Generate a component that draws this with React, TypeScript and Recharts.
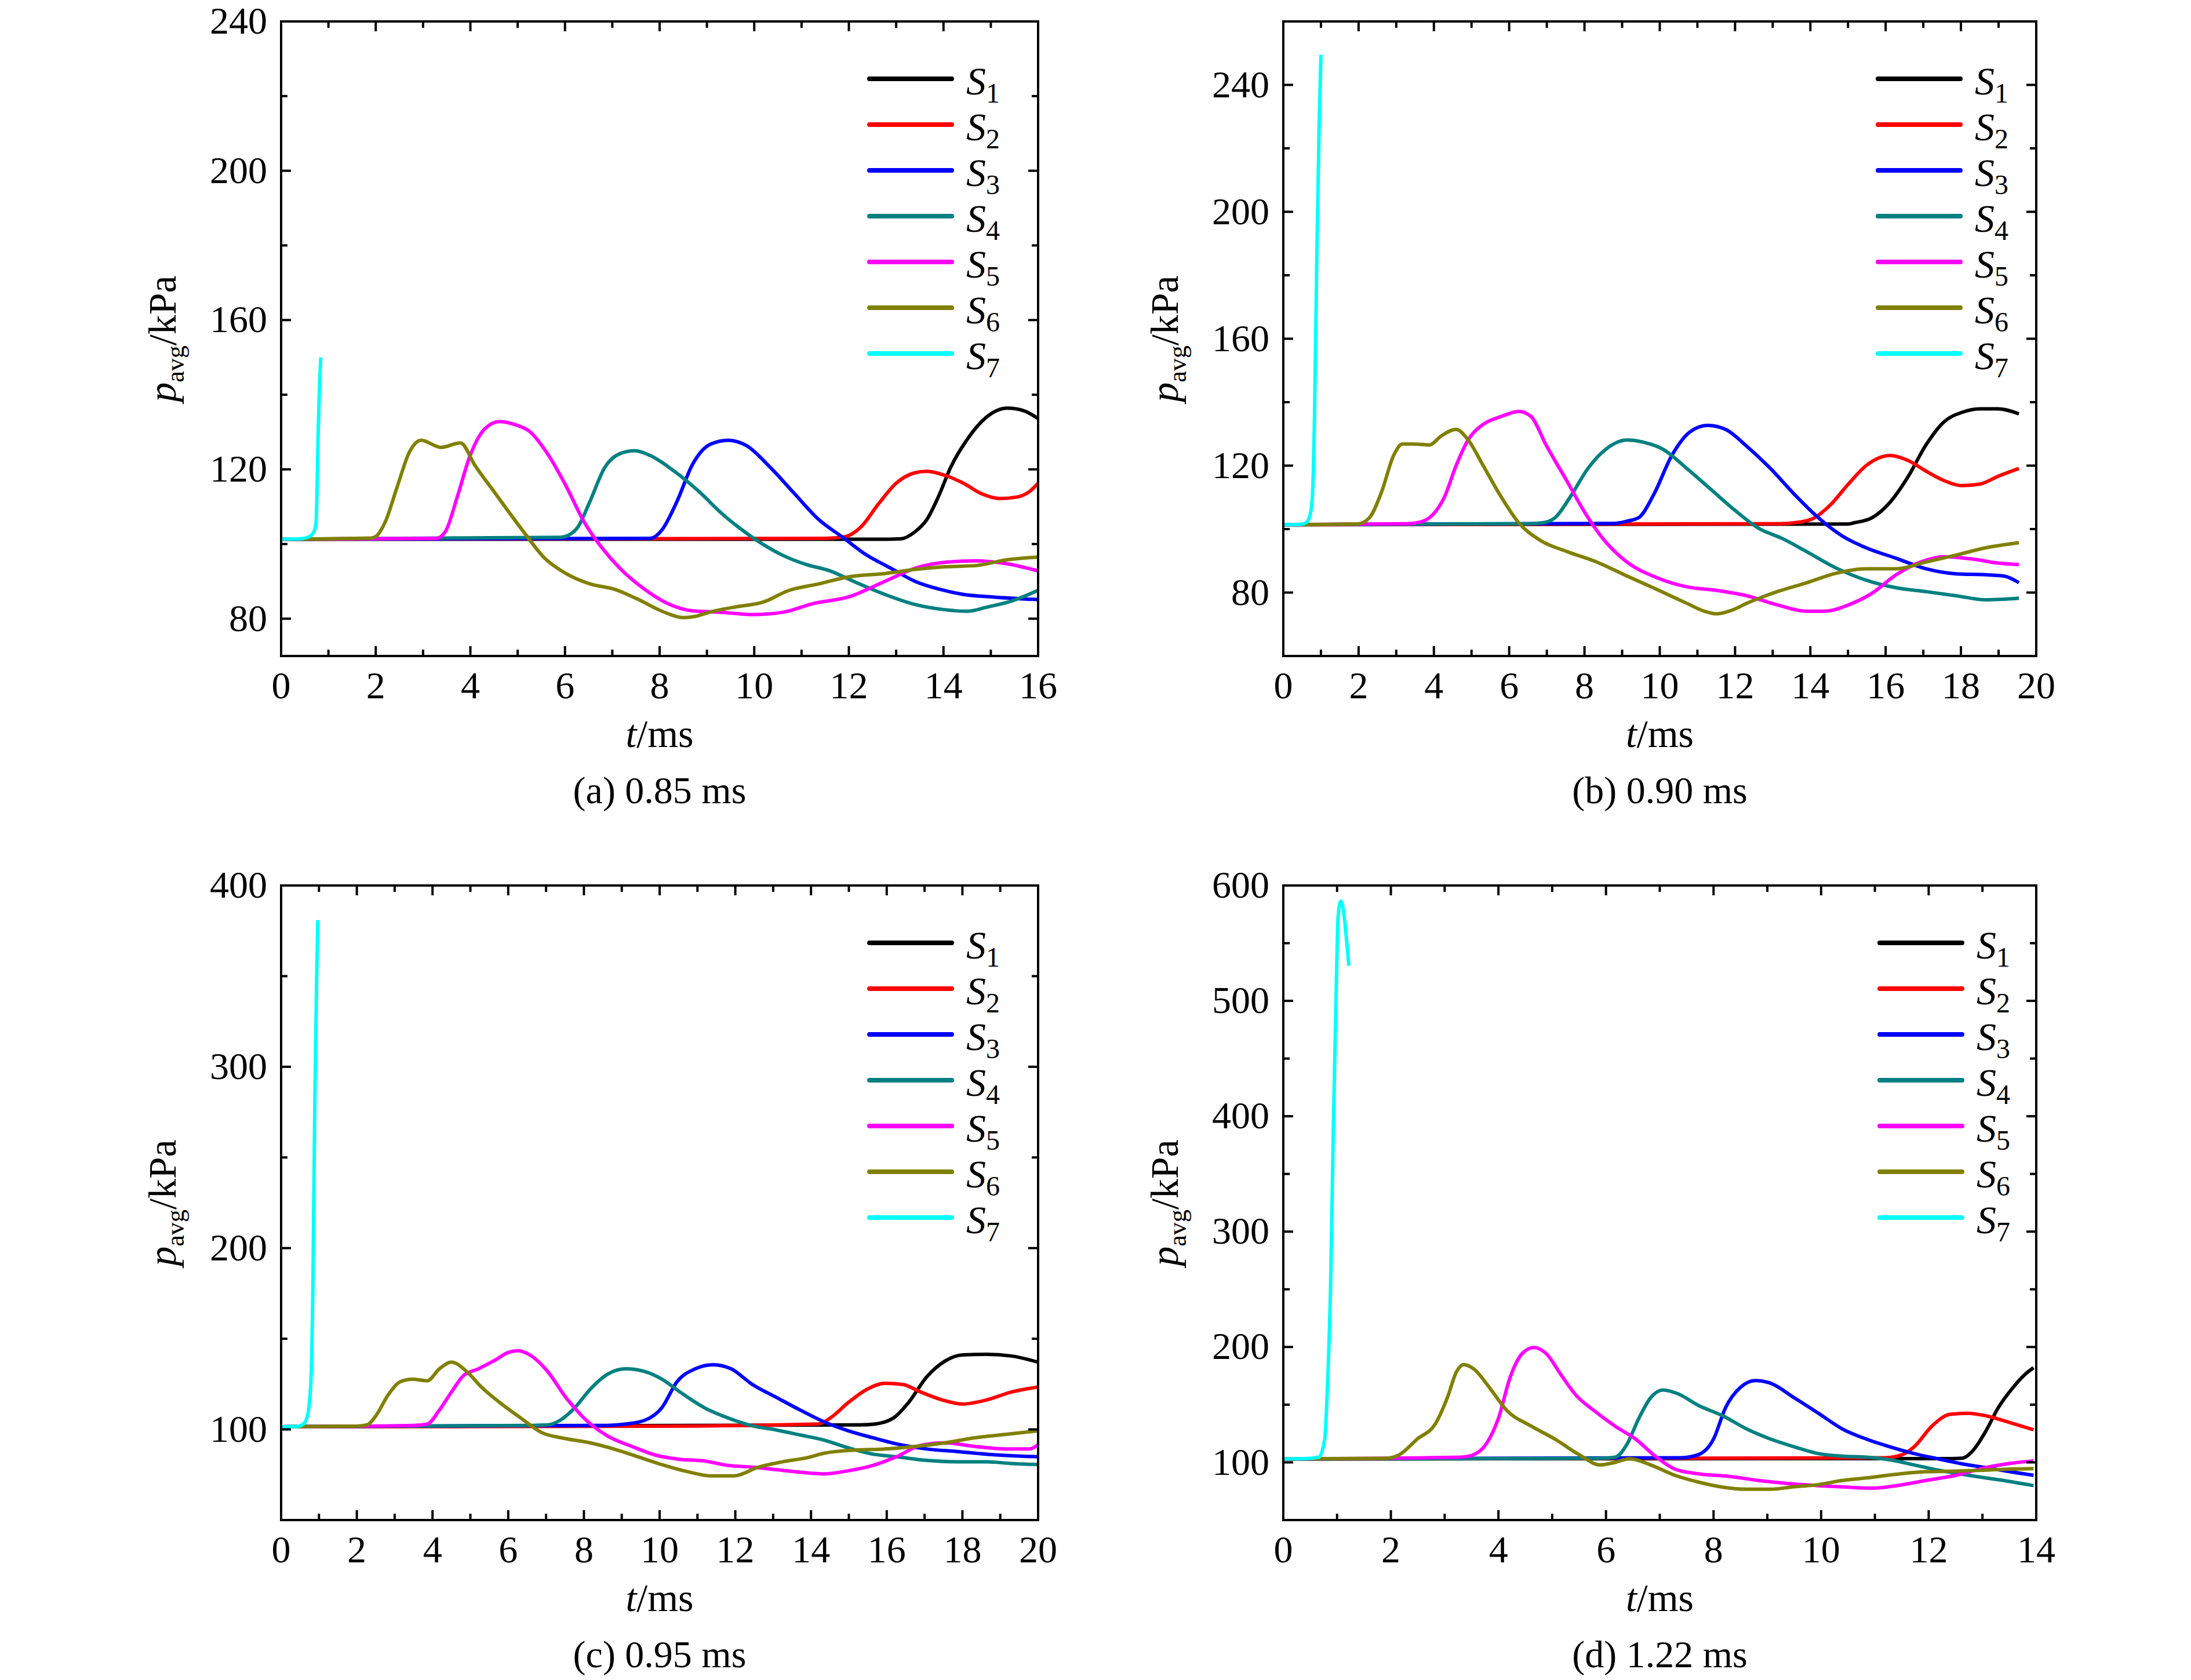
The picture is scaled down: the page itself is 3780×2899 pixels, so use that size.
import React from "react";
import { LineChart, Line, XAxis, YAxis, Legend, Label } from "recharts";

document.body.style.margin = "0";

const FONT = "Liberation Serif, Times New Roman, serif";
const NAMES = ["S1", "S2", "S3", "S4", "S5", "S6", "S7"];
const COLORS = ["#000000", "#ff0000", "#0000ff", "#008080", "#ff00ff", "#808000", "#00ffff"];

type Pt = [number, number];

// (a) 0.85 ms
const A_S1: Pt[] = [[0, 101.3], [12.8, 101.3], [13.1, 101.4], [13.4, 103.3], [13.65, 106.6], [13.9, 112.9], [14.15, 120.5], [14.5, 128], [14.9, 133.9], [15.35, 136.4], [15.7, 135.7], [16, 133.6]];
const A_S2: Pt[] = [[0, 101.3], [11.5, 101.5], [11.93, 102], [12.25, 104.5], [12.63, 110.8], [13.0, 116.3], [13.4, 119.1], [13.65, 119.5], [14.03, 118.4], [14.42, 116.3], [14.8, 113.5], [15.18, 112.2], [15.56, 112.6], [15.81, 114], [16, 116.3]];
const A_S3: Pt[] = [[0, 101.3], [7.8, 101.5], [8.05, 103.8], [8.37, 111.5], [8.69, 121.2], [9.07, 126.7], [9.45, 127.8], [9.83, 126.4], [10.34, 120.5], [10.85, 113.5], [11.36, 106.6], [11.87, 101.8], [12.38, 97], [12.89, 93.5], [13.4, 90], [13.91, 87.9], [14.42, 86.5], [15.05, 85.8], [16, 85.1]];
const A_S4: Pt[] = [[0, 101.3], [5.9, 101.8], [6.08, 102.4], [6.27, 104.5], [6.53, 111.5], [6.84, 120.5], [7.16, 124.2], [7.48, 125], [7.8, 123.7], [8.31, 119.5], [8.82, 114.2], [9.33, 108], [9.96, 101.8], [10.6, 97], [11.1, 94.5], [11.6, 92.8], [12.1, 90], [12.76, 86.5], [13.4, 83.8], [14.03, 82.4], [14.5, 82], [14.92, 83.1], [15.43, 84.7], [16, 87.6]];
const A_S5: Pt[] = [[0, 101.3], [3.28, 101.5], [3.47, 103.3], [3.73, 112.9], [3.98, 123.2], [4.3, 130.8], [4.62, 132.8], [4.94, 132], [5.25, 130.2], [5.64, 124], [6.02, 115.6], [6.4, 106], [6.78, 99], [7.16, 93.5], [7.67, 88], [8.18, 84], [8.69, 82.1], [9.33, 81.7], [9.96, 81.1], [10.6, 81.7], [11.23, 84], [11.99, 85.8], [12.76, 90], [13.4, 93.5], [14.03, 95.1], [14.67, 95.5], [15.3, 94.8], [16, 92.8]];
const A_S6: Pt[] = [[0, 101.3], [1.9, 101.6], [2.0, 102], [2.2, 105.9], [2.46, 115.6], [2.71, 124.6], [2.96, 127.8], [3.38, 125.9], [3.79, 127.1], [4.1, 121], [4.49, 114.2], [5.13, 103.2], [5.57, 96.2], [6.02, 92.1], [6.53, 89.3], [7.04, 87.9], [7.54, 85.2], [8.05, 82], [8.5, 80.3], [8.75, 80.6], [9.07, 81.8], [9.58, 83.1], [10.2, 84.5], [10.72, 87.5], [11.36, 89.3], [11.99, 91.2], [12.76, 92.1], [13.4, 93.2], [14.03, 93.9], [14.67, 94.2], [15.3, 95.7], [16, 96.5]];
const A_S7: Pt[] = [[0, 101.3], [0.4, 101.4], [0.6, 102], [0.7, 103.5], [0.74, 106], [0.76, 115], [0.78, 128], [0.81, 142], [0.84, 150]];

// (b) 0.90 ms
const B_S1: Pt[] = [[0, 101.4], [15.0, 101.6], [15.17, 102], [15.64, 103.6], [16.12, 108.5], [16.6, 116.6], [17.07, 126.5], [17.55, 133.8], [18.03, 136.8], [18.51, 137.9], [18.98, 137.9], [19.54, 136.3]];
const B_S2: Pt[] = [[0, 101.4], [13.2, 101.7], [13.58, 102], [14.05, 103.2], [14.53, 107.6], [15.01, 114.2], [15.48, 120], [16.12, 123.2], [16.6, 121.6], [17.07, 118.3], [17.55, 115.3], [18.03, 113.7], [18.51, 114.2], [18.98, 116.6], [19.54, 119.1]];
const B_S3: Pt[] = [[0, 101.4], [8.8, 101.8], [9.13, 102.5], [9.44, 103.6], [9.84, 110.9], [10.32, 123.2], [10.8, 130.6], [11.27, 132.7], [11.75, 131.4], [12.31, 126.1], [12.94, 119.1], [13.58, 110.9], [14.21, 103.6], [14.85, 97.8], [15.48, 94.1], [16.28, 90.8], [17.07, 87.5], [17.87, 85.9], [18.66, 85.6], [19.14, 85.2], [19.54, 83.1]];
const B_S4: Pt[] = [[0, 101.4], [6.5, 101.7], [6.9, 102], [7.22, 103.6], [7.62, 110.1], [8.09, 119.1], [8.57, 125.2], [9.13, 128.1], [9.6, 127.3], [10.08, 125.2], [10.72, 119.1], [11.35, 112.6], [11.99, 106], [12.62, 100.3], [13.26, 97], [13.9, 92.9], [14.69, 87.7], [15.48, 83.9], [16.28, 81.5], [17.07, 80.3], [17.87, 79], [18.66, 77.7], [19.54, 78.2]];
const B_S5: Pt[] = [[0, 101.4], [3.3, 101.7], [3.64, 102.2], [3.96, 104.4], [4.28, 110.1], [4.59, 120], [4.91, 128.1], [5.31, 133], [5.79, 135.5], [6.26, 137.1], [6.58, 135.5], [6.98, 126.5], [7.54, 115], [8.01, 105.2], [8.49, 97], [9.13, 89.6], [9.92, 84.7], [10.72, 81.8], [11.51, 80.7], [12.31, 79], [13.1, 76.2], [13.9, 74.1], [14.37, 74.1], [15.01, 76.1], [15.64, 79.8], [16.28, 85.6], [16.92, 89.6], [17.55, 91.3], [18.35, 90.5], [18.98, 89.3], [19.54, 88.8]];
const B_S6: Pt[] = [[0, 101.4], [1.97, 101.6], [2.29, 103.6], [2.61, 111.7], [2.93, 123.2], [3.16, 126.8], [3.48, 126.8], [3.88, 126.5], [4.2, 129.4], [4.59, 131.4], [4.91, 128.1], [5.31, 120], [5.79, 110.1], [6.26, 101.9], [6.82, 96.5], [7.54, 92.9], [8.33, 89.6], [9.13, 85.2], [9.92, 81], [10.72, 76.6], [11.19, 74.1], [11.51, 73.3], [11.91, 74.4], [12.31, 76.6], [13.1, 80.2], [13.9, 83.1], [14.69, 86.1], [15.48, 87.5], [16.28, 87.5], [17.07, 89.6], [17.87, 91.8], [18.66, 94.1], [19.54, 95.7]];
const B_S7: Pt[] = [[0, 101.4], [0.45, 101.5], [0.6, 102], [0.67, 103], [0.75, 107], [0.78, 112], [0.83, 136.3], [0.89, 185.4], [0.95, 226.3], [1.0, 249.5]];

// (c) 0.95 ms
const C_S1: Pt[] = [[0, 101.5], [15.3, 102.5], [15.7, 103], [16.18, 106.3], [16.58, 114.9], [17.06, 129], [17.54, 137.7], [18.01, 141.1], [18.65, 141.4], [19.29, 140.5], [20, 137.1]];
const C_S2: Pt[] = [[0, 101.5], [10, 101.8], [14.2, 103], [14.51, 106.3], [14.99, 114.9], [15.47, 122], [15.95, 125.4], [16.42, 124.8], [16.9, 120.6], [17.46, 116.3], [18.01, 114], [18.65, 116.3], [19.29, 120.6], [20, 123.4]];
const C_S3: Pt[] = [[0, 101.5], [8.6, 102.2], [9.11, 103], [9.59, 104.9], [10.06, 112], [10.46, 126.3], [10.94, 133.4], [11.41, 135.7], [11.89, 133.4], [12.45, 124.8], [13.08, 117.7], [13.72, 110.6], [14.36, 104], [14.99, 99.2], [15.63, 95.4], [16.26, 92], [17.06, 89.2], [17.85, 87.8], [18.65, 86.3], [20, 84.9]];
const C_S4: Pt[] = [[0, 101.5], [6.6, 102.2], [7.04, 102.5], [7.36, 104.9], [7.76, 112], [8.16, 122], [8.63, 130.5], [9.11, 133.4], [9.59, 132], [10.06, 127.7], [10.54, 120.6], [11.18, 112], [11.81, 106.3], [12.45, 102], [13.08, 99.7], [13.72, 96.9], [14.36, 94], [14.99, 89.8], [15.63, 86.4], [16.26, 84.9], [17.06, 82.9], [17.85, 82.1], [18.65, 82.1], [19.29, 81.2], [20, 80.6]];
const C_S5: Pt[] = [[0, 101.5], [3.5, 102.2], [3.86, 102.9], [4.18, 110.6], [4.5, 120.6], [4.82, 129.7], [5.21, 133.4], [5.61, 137.7], [6.01, 142.5], [6.25, 143.4], [6.57, 141.1], [7.04, 132], [7.52, 117.7], [8.0, 106.3], [8.63, 96.3], [9.27, 90.6], [9.9, 85.8], [10.54, 83.5], [11.18, 82.6], [11.81, 80.1], [12.45, 79.2], [13.08, 77.8], [13.72, 76.4], [14.36, 75.5], [14.99, 77.2], [15.63, 80.1], [16.26, 84.9], [16.9, 91.2], [17.54, 92.6], [18.33, 90.6], [19.13, 89.2], [19.76, 89.2], [20, 91.5]];
const C_S6: Pt[] = [[0, 101.5], [2.0, 101.8], [2.27, 102.5], [2.51, 107.7], [2.83, 119.1], [3.15, 126.3], [3.47, 127.7], [3.86, 126.8], [4.18, 133.4], [4.5, 137.1], [4.9, 132], [5.29, 123.4], [5.77, 114.9], [6.33, 106.3], [6.88, 98.3], [7.52, 94.9], [8.16, 92.6], [8.79, 89.2], [9.43, 84.9], [10.06, 80.6], [10.7, 76.9], [11.34, 74.4], [11.97, 74.4], [12.61, 79.2], [13.24, 82.1], [13.88, 84.3], [14.36, 86.9], [15.15, 88.6], [15.95, 89.2], [16.74, 90.6], [17.54, 92.6], [18.33, 95.4], [19.13, 97.2], [20, 99.2]];
const C_S7: Pt[] = [[0, 101.5], [0.4, 101.6], [0.56, 102.5], [0.68, 106.3], [0.78, 123.4], [0.84, 180.4], [0.89, 280.2], [0.94, 351.5], [0.97, 380.9]];

// (d) 1.22 ms
const D_S1: Pt[] = [[0, 103], [12.4, 103.3], [12.62, 103.6], [12.84, 111.2], [13.06, 126.9], [13.29, 147.1], [13.57, 165], [13.79, 176.2], [13.95, 182.1]];
const D_S2: Pt[] = [[0, 103], [11.2, 104], [11.51, 106.7], [11.73, 113.5], [12.06, 131.4], [12.4, 141.7], [12.73, 142.6], [13.06, 140.4], [13.51, 134.5], [13.95, 128.3]];
const D_S3: Pt[] = [[0, 103], [7.4, 104], [7.72, 106.7], [8.0, 120.2], [8.22, 147.1], [8.5, 165], [8.78, 170.9], [9.06, 168.6], [9.5, 156], [9.95, 142.6], [10.39, 129.1], [10.84, 120.2], [11.28, 113.5], [11.73, 107.6], [12.17, 103.1], [12.62, 98.7], [13.06, 95.5], [13.51, 91.9], [13.95, 88.8]];
const D_S4: Pt[] = [[0, 103], [5.9, 103.5], [6.17, 104.5], [6.39, 115.7], [6.61, 138.1], [6.83, 156], [7.06, 162.8], [7.33, 159.6], [7.72, 149.3], [8.17, 140.4], [8.61, 129.1], [9.06, 120.2], [9.5, 113.5], [9.95, 107.6], [10.39, 105.4], [10.84, 104.5], [11.28, 102.2], [11.73, 97.8], [12.17, 93.3], [12.62, 89.7], [13.06, 86.5], [13.51, 83.4], [13.95, 79.8]];
const D_S5: Pt[] = [[0, 103], [3.3, 104.5], [3.49, 105.8], [3.77, 115.7], [4.0, 138.1], [4.22, 174], [4.44, 194.2], [4.66, 199.6], [4.89, 194.2], [5.16, 176.2], [5.44, 158.3], [5.78, 144.8], [6.17, 131.4], [6.55, 120.2], [6.94, 104.5], [7.28, 94.2], [7.72, 90.1], [8.28, 87.9], [8.84, 84.3], [9.39, 81.6], [9.95, 79.8], [10.5, 78.5], [10.95, 77.6], [11.4, 79.8], [11.95, 84.3], [12.51, 88.8], [13.06, 95.5], [13.51, 99.1], [13.95, 101.3]];
const D_S6: Pt[] = [[0, 103], [1.9, 103.5], [2.16, 106.7], [2.49, 120.2], [2.83, 133.6], [3.05, 156], [3.22, 178.5], [3.35, 184.8], [3.55, 180.7], [3.83, 165], [4.16, 144.8], [4.61, 131.4], [5.05, 120.2], [5.5, 106.7], [5.89, 97.8], [6.17, 100], [6.44, 103.1], [6.83, 97.8], [7.28, 88.8], [7.72, 82.9], [8.17, 78.5], [8.61, 76.7], [9.06, 76.7], [9.5, 78.9], [9.95, 80.7], [10.39, 84.3], [10.84, 86.5], [11.4, 89.7], [11.95, 91.9], [12.51, 92.4], [13.06, 93.3], [13.51, 94.2], [13.95, 94.6]];
const D_S7: Pt[] = [[0, 103], [0.4, 103.2], [0.66, 104.5], [0.77, 120.2], [0.82, 165], [0.88, 254.7], [0.93, 389.2], [0.98, 501.3], [1.02, 573.1], [1.07, 586.5], [1.12, 577.6], [1.18, 550.7], [1.22, 530.5]];

// ticks
const A_X_MAJOR = [0, 2, 4, 6, 8, 10, 12, 14, 16];
const A_X_MINOR = [1, 3, 5, 7, 9, 11, 13, 15];
const A_Y_MAJOR = [80, 120, 160, 200, 240];
const A_Y_MINOR = [100, 140, 180, 220];

const B_X_MAJOR = [0, 2, 4, 6, 8, 10, 12, 14, 16, 18, 20];
const B_X_MINOR = [1, 3, 5, 7, 9, 11, 13, 15, 17, 19];
const B_Y_MAJOR = [80, 120, 160, 200, 240];
const B_Y_MINOR = [100, 140, 180, 220];

const C_X_MAJOR = [0, 2, 4, 6, 8, 10, 12, 14, 16, 18, 20];
const C_X_MINOR = [1, 3, 5, 7, 9, 11, 13, 15, 17, 19];
const C_Y_MAJOR = [100, 200, 300, 400];
const C_Y_MINOR = [150, 250, 350];

const D_X_MAJOR = [0, 2, 4, 6, 8, 10, 12, 14];
const D_X_MINOR = [1, 3, 5, 7, 9, 11, 13];
const D_Y_MAJOR = [100, 200, 300, 400, 500, 600];
const D_Y_MINOR = [150, 250, 350, 450, 550];

const W = 1620;
const H = 1450;
const LEFT_GAP = 257; // chart edge to plot box
const TOP_GAP = 37;
const PLOT_H = 1095;
const MAJOR_LEN = 17;
const MINOR_LEN = 11;
const TICK_W = 4;
const AXIS_LINE = { stroke: "#000", strokeWidth: 4, strokeLinecap: "square" as const };

const toPts = (arr: Pt[]) => arr.map(([t, p]) => ({ t, p }));
const merge = (a: number[], b: number[]) => [...a, ...b].sort((m, n) => m - n);

type PanelProps = {
  plotLeft: number;
  plotRight: number;
  plotTop: number;
  caption: string;
  series: Pt[][];
  xDomain: [number, number];
  xMajor: number[];
  xMinor: number[];
  yDomain: [number, number];
  yMajor: number[];
  yMinor: number[];
  legendDx: number;
};

function LegendBody({ payload }: any) {
  return (
    <div style={{ fontFamily: FONT, color: "#000" }}>
      {(payload || []).map((e: any) => (
        <div key={e.value} style={{ display: "flex", alignItems: "center", height: 79 }}>
          <div style={{ width: 150, height: 8, background: e.color, borderRadius: 4 }} />
          <span style={{ marginLeft: 21, fontSize: 68, lineHeight: "68px", position: "relative", top: 8, whiteSpace: "nowrap", fontFamily: FONT }}>
            <span style={{ fontStyle: "italic" }}>S</span>
            <span style={{ fontSize: 48, position: "relative", top: 14 }}>{String(e.value).slice(1)}</span>
          </span>
        </div>
      ))}
    </div>
  );
}

function Panel(props: PanelProps) {
  const { plotLeft, plotRight, plotTop, caption, series, xDomain, xMajor, xMinor, yDomain, yMajor, yMinor, legendDx } = props;
  const xTicks = merge(xMajor, xMinor);
  const yTicks = merge(yMajor, yMinor);
  const left = plotLeft - LEFT_GAP;
  const top = plotTop - TOP_GAP;
  // every axis is 1px thick, hence the -1s
  const margin = {
    top: TOP_GAP - 1,
    left: LEFT_GAP - 1,
    right: left + W - plotRight - 1,
    bottom: H - TOP_GAP - PLOT_H - 1,
  };

  // tickSize and tickMargin are 0, so (x, y) is the point on the axis line
  const bottomTick = ({ x, y, payload }: any) => {
    const major = xMajor.includes(payload.value);
    const len = major ? MAJOR_LEN : MINOR_LEN;
    return (
      <g>
        <line x1={x} x2={x} y1={y} y2={y - len} stroke="#000" strokeWidth={TICK_W} />
        {major && (
          <text x={x} y={y + 73} textAnchor="middle" fontSize={66} fontFamily={FONT} fill="#000">
            {payload.value}
          </text>
        )}
      </g>
    );
  };
  const topTick = ({ x, y, payload }: any) => {
    const len = xMajor.includes(payload.value) ? MAJOR_LEN : MINOR_LEN;
    return <line x1={x} x2={x} y1={y} y2={y + len} stroke="#000" strokeWidth={TICK_W} />;
  };
  const leftTick = ({ x, y, payload }: any) => {
    const major = yMajor.includes(payload.value);
    const len = major ? MAJOR_LEN : MINOR_LEN;
    return (
      <g>
        <line x1={x} x2={x + len} y1={y} y2={y} stroke="#000" strokeWidth={TICK_W} />
        {major && (
          <text x={x - 24} y={y} dy="0.32em" textAnchor="end" fontSize={66} fontFamily={FONT} fill="#000">
            {payload.value}
          </text>
        )}
      </g>
    );
  };
  const rightTick = ({ x, y, payload }: any) => {
    const len = yMajor.includes(payload.value) ? MAJOR_LEN : MINOR_LEN;
    return <line x1={x} x2={x - len} y1={y} y2={y} stroke="#000" strokeWidth={TICK_W} />;
  };

  const xTitle = ({ viewBox }: any) => {
    const cx = viewBox.x + viewBox.width / 2;
    const y0 = viewBox.y;
    return (
      <g fontFamily={FONT} fill="#000">
        <text x={cx} y={y0 + 157} textAnchor="middle" fontSize={68}>
          <tspan fontStyle="italic">t</tspan>
          <tspan>/ms</tspan>
        </text>
        <text x={cx} y={y0 + 254} textAnchor="middle" fontSize={66}>
          {caption}
        </text>
      </g>
    );
  };
  const yTitle = ({ viewBox }: any) => {
    const cx = viewBox.x - 201;
    const cy = viewBox.y + viewBox.height / 2;
    return (
      <text
        x={cx}
        y={cy}
        dy="0.3em"
        textAnchor="middle"
        fontSize={68}
        fontFamily={FONT}
        fill="#000"
        transform={`rotate(-90 ${cx} ${cy})`}
      >
        <tspan fontStyle="italic">p</tspan>
        <tspan fontSize={44} dy={14}>avg</tspan>
        <tspan dy={-14}>/kPa</tspan>
      </text>
    );
  };

  return (
    <div style={{ position: "absolute", left, top, width: W, height: H }}>
      <LineChart width={W} height={H} margin={margin}>
        <XAxis
          dataKey="t"
          type="number"
          domain={xDomain}
          ticks={xTicks}
          interval={0}
          allowDataOverflow
          height={1}
          tickSize={0}
          tickMargin={0}
          tickLine={false}
          axisLine={AXIS_LINE}
          tick={bottomTick}
        >
          <Label content={xTitle} />
        </XAxis>
        <XAxis
          xAxisId="top"
          orientation="top"
          dataKey="t"
          type="number"
          domain={xDomain}
          ticks={xTicks}
          interval={0}
          allowDataOverflow
          height={1}
          tickSize={0}
          tickMargin={0}
          tickLine={false}
          axisLine={AXIS_LINE}
          tick={topTick}
        />
        <YAxis
          type="number"
          domain={yDomain}
          ticks={yTicks}
          interval={0}
          allowDataOverflow
          width={1}
          tickSize={0}
          tickMargin={0}
          tickLine={false}
          axisLine={AXIS_LINE}
          tick={leftTick}
        >
          <Label content={yTitle} />
        </YAxis>
        <YAxis
          yAxisId="right"
          orientation="right"
          type="number"
          domain={yDomain}
          ticks={yTicks}
          interval={0}
          allowDataOverflow
          width={1}
          tickSize={0}
          tickMargin={0}
          tickLine={false}
          axisLine={AXIS_LINE}
          tick={rightTick}
        />
        <Legend
          layout="vertical"
          align="center"
          verticalAlign="middle"
          wrapperStyle={{ left: LEFT_GAP + legendDx, top: TOP_GAP + 59, width: "auto", height: "auto", right: "auto", bottom: "auto" }}
          content={<LegendBody />}
        />
        {series.map((s, i) => (
          <Line
            key={NAMES[i]}
            data={toPts(s)}
            dataKey="p"
            name={NAMES[i]}
            type="monotone"
            stroke={COLORS[i]}
            strokeWidth={6}
            dot={false}
            activeDot={false}
            isAnimationActive={false}
          />
        ))}
      </LineChart>
    </div>
  );
}

export default function App() {
  return (
    <div style={{ position: "relative", width: 3780, height: 2899, background: "#fff", overflow: "hidden", fontFamily: FONT }}>
      <Panel
        plotLeft={485}
        plotRight={1791}
        plotTop={37}
        caption="(a) 0.85 ms"
        series={[A_S1, A_S2, A_S3, A_S4, A_S5, A_S6, A_S7]}
        xDomain={[0, 16]}
        xMajor={A_X_MAJOR}
        xMinor={A_X_MINOR}
        yDomain={[70, 240]}
        yMajor={A_Y_MAJOR}
        yMinor={A_Y_MINOR}
        legendDx={1011}
      />
      <Panel
        plotLeft={2214}
        plotRight={3513}
        plotTop={37}
        caption="(b) 0.90 ms"
        series={[B_S1, B_S2, B_S3, B_S4, B_S5, B_S6, B_S7]}
        xDomain={[0, 20]}
        xMajor={B_X_MAJOR}
        xMinor={B_X_MINOR}
        yDomain={[60, 260]}
        yMajor={B_Y_MAJOR}
        yMinor={B_Y_MINOR}
        legendDx={1022}
      />
      <Panel
        plotLeft={485}
        plotRight={1791}
        plotTop={1528}
        caption="(c) 0.95 ms"
        series={[C_S1, C_S2, C_S3, C_S4, C_S5, C_S6, C_S7]}
        xDomain={[0, 20]}
        xMajor={C_X_MAJOR}
        xMinor={C_X_MINOR}
        yDomain={[50, 400]}
        yMajor={C_Y_MAJOR}
        yMinor={C_Y_MINOR}
        legendDx={1011}
      />
      <Panel
        plotLeft={2214}
        plotRight={3513}
        plotTop={1528}
        caption="(d) 1.22 ms"
        series={[D_S1, D_S2, D_S3, D_S4, D_S5, D_S6, D_S7]}
        xDomain={[0, 14]}
        xMajor={D_X_MAJOR}
        xMinor={D_X_MINOR}
        yDomain={[50, 600]}
        yMajor={D_Y_MAJOR}
        yMinor={D_Y_MINOR}
        legendDx={1025}
      />
    </div>
  );
}
